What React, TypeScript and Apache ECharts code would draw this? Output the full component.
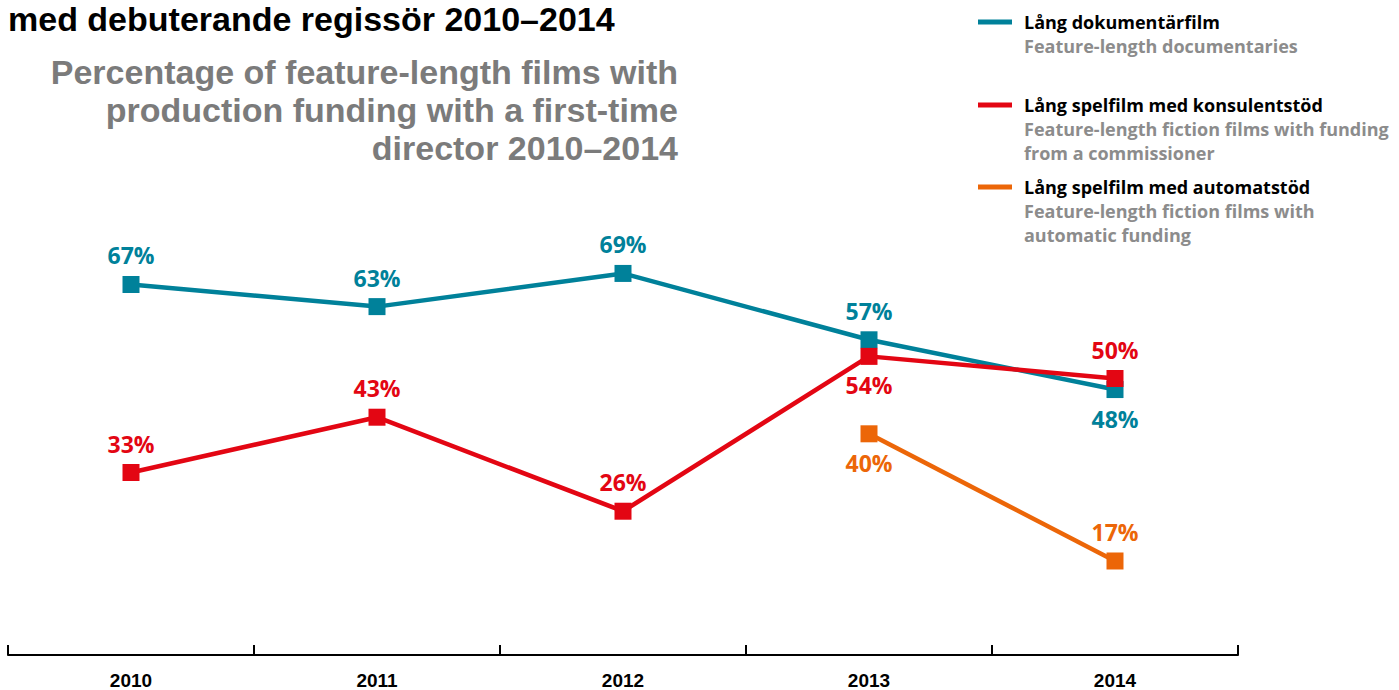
import React, { useEffect, useRef } from "react";
import * as echarts from "echarts";

const years = ["2010", "2011", "2012", "2013", "2014"];
const documentaries = [67, 63, 69, 57, 48];
const commissioner = [33, 43, 26, 54, 50];
const automatic: (number | null)[] = [null, null, null, 40, 17];
const docLabelPos = ["top", "top", "top", "top", "bottom"];
const comLabelPos = ["top", "top", "top", "bottom", "top"];
const autoLabelPos = ["top", "top", "top", "bottom", "top"];
const seriesNames = [
  "Lång dokumentärfilm",
  "Lång spelfilm med konsulentstöd",
  "Lång spelfilm med automatstöd",
];
const seriesSubtitles = [
  ["Feature-length documentaries"],
  ["Feature-length fiction films with funding", "from a commissioner"],
  ["Feature-length fiction films with", "automatic funding"],
];
const titleText = "med debuterande regissör 2010–2014";
const subtitleLines = [
  "Percentage of feature-length films with",
  "production funding with a first-time",
  "director 2010–2014",
];

const COLORS = ["#00819a", "#e30613", "#ec6608"];
const LEGEND_Y = [22, 105, 187];

function makeData(values: (number | null)[], pos: string[]) {
  return values.map((v, i) =>
    v === null ? null : { value: v, label: { position: pos[i] } }
  );
}

export default function App() {
  const ref = useRef<HTMLDivElement>(null);
  useEffect(() => {
    if (!ref.current) return;
    const chart = echarts.init(ref.current, null, { renderer: "svg" });

    const graphics: any[] = [];
    graphics.push({
      type: "text",
      x: 8,
      y: 19,
      style: {
        text: titleText,
        font: 'bold 34px "Liberation Sans"',
        fill: "#000",
        textAlign: "left",
        textVerticalAlign: "middle",
      },
    });
    subtitleLines.forEach((line, i) => {
      graphics.push({
        type: "text",
        x: 678,
        y: 72 + i * 38,
        style: {
          text: line,
          font: 'bold 34px "Liberation Sans"',
          fill: "#7b7b7b",
          textAlign: "right",
          textVerticalAlign: "middle",
        },
      });
    });
    seriesNames.forEach((name, i) => {
      const y0 = LEGEND_Y[i];
      graphics.push({
        type: "rect",
        shape: { x: 978, y: y0 - 2.5, width: 34, height: 5 },
        style: { fill: COLORS[i] },
      });
      graphics.push({
        type: "text",
        x: 1024,
        y: y0,
        style: {
          text: name,
          font: 'bold 18px "Open Sans"',
          fill: "#000",
          textAlign: "left",
          textVerticalAlign: "middle",
        },
      });
      seriesSubtitles[i].forEach((sub, j) => {
        graphics.push({
          type: "text",
          x: 1024,
          y: y0 + 24 * (j + 1),
          style: {
            text: sub,
            font: 'bold 18px "Open Sans"',
            fill: "#8c8c8c",
            textAlign: "left",
            textVerticalAlign: "middle",
          },
        });
      });
    });

    const mkSeries = (name: string, data: any[], color: string) => ({
      name,
      type: "line",
      data,
      connectNulls: false,
      symbol: "rect",
      symbolSize: 17,
      lineStyle: { color, width: 4.5 },
      itemStyle: { color },
      label: {
        show: true,
        formatter: "{c}%",
        color,
        fontFamily: "Open Sans",
        fontWeight: "bold",
        fontSize: 23,
        distance: 9,
      },
    });

    chart.setOption({
      animation: false,
      grid: { left: 8, right: 161, top: 102, bottom: 32, containLabel: false },
      xAxis: {
        type: "category",
        data: years,
        boundaryGap: true,
        axisLine: { show: true, lineStyle: { color: "#000", width: 2 } },
        axisTick: {
          show: true,
          inside: true,
          length: 10,
          interval: 0,
          lineStyle: { color: "#000", width: 2 },
        },
        axisLabel: {
          color: "#000",
          fontFamily: "Liberation Sans",
          fontWeight: "bold",
          fontSize: 19,
          margin: 16,
        },
        splitLine: { show: false },
      },
      yAxis: {
        type: "value",
        min: 0,
        max: 100,
        show: false,
        splitLine: { show: false },
      },
      series: [
        mkSeries(seriesNames[0], makeData(documentaries, docLabelPos), COLORS[0]),
        mkSeries(seriesNames[1], makeData(commissioner, comLabelPos), COLORS[1]),
        mkSeries(seriesNames[2], makeData(automatic, autoLabelPos), COLORS[2]),
      ],
      graphic: graphics,
    });
    return () => chart.dispose();
  }, []);
  return (
    <div
      ref={ref}
      style={{ position: "fixed", left: 0, top: 0, width: 1399, height: 690, background: "#fff" }}
    />
  );
}
